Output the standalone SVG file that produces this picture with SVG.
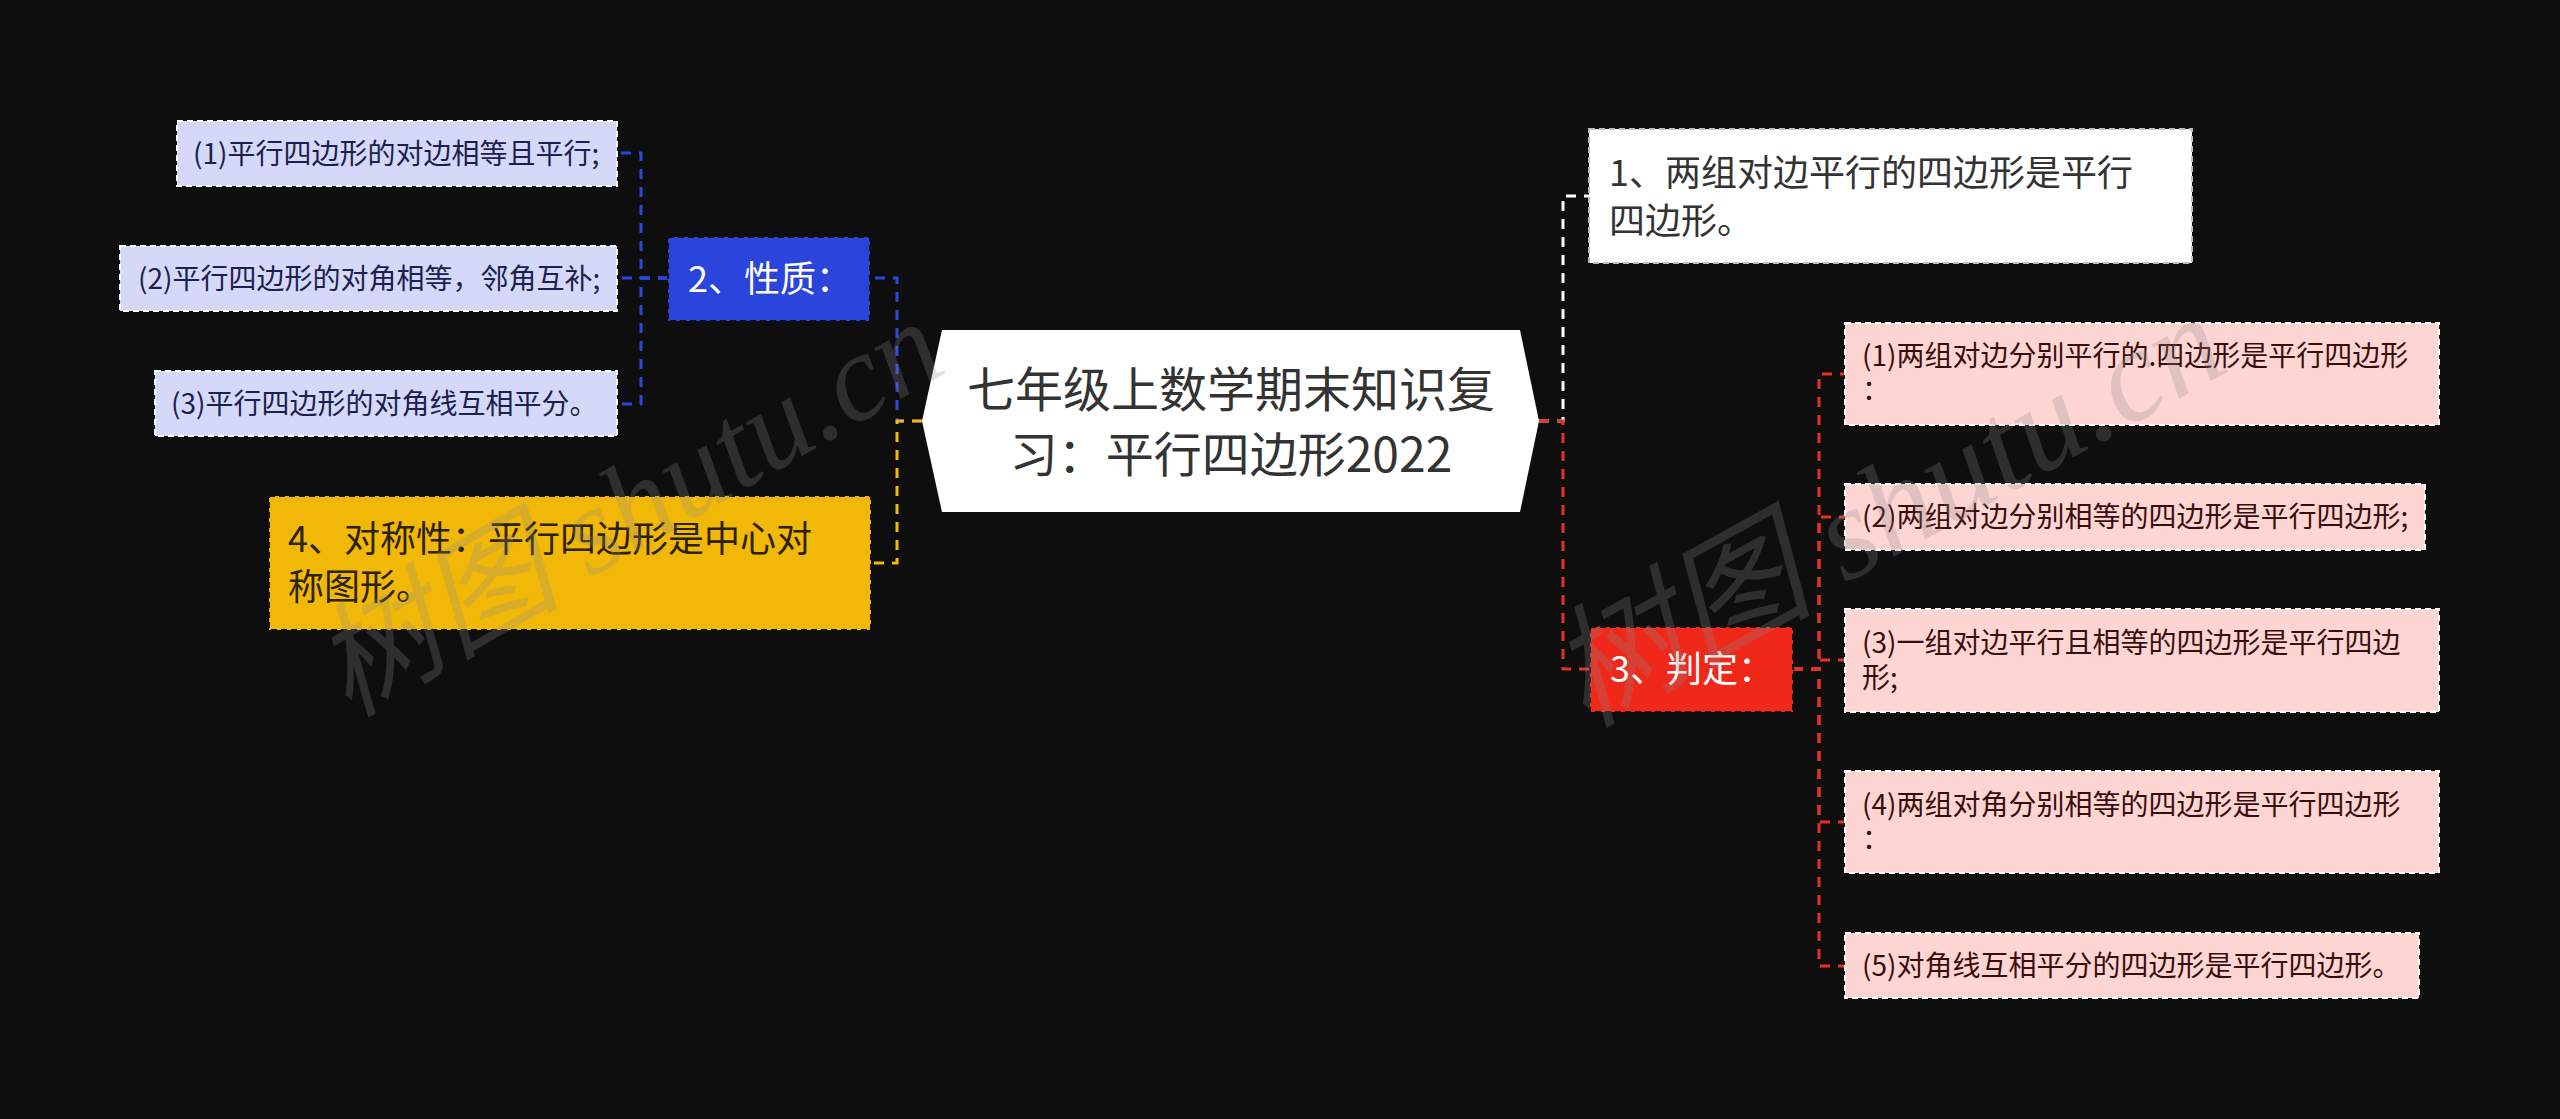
<svg xmlns="http://www.w3.org/2000/svg" width="2560" height="1119" viewBox="0 0 2560 1119">
<style>
text{font-family:"Noto Sans CJK SC","Noto Sans",sans-serif}
.c{fill:none;stroke-width:3;stroke-dasharray:10 8}
.bl{stroke:#2b48de}.ye{stroke:#f0b90b}.wh{stroke:#ffffff}.rd{stroke:#e5321f}
.lav{fill:#d5d9f7;stroke:#ffffff;stroke-width:2;stroke-dasharray:6 4}
.pk{fill:#fdd6d3;stroke:#ffffff;stroke-width:2;stroke-dasharray:6 4}
.s{font-size:28px}
.b{font-size:36px}
.tl{fill:#1b2050}.tp{fill:#3a0c0c}
.wm{font-family:"Liberation Serif","Noto Sans CJK SC",serif;fill:#8a8a8a;fill-opacity:.26;font-style:italic}
</style>
<rect width="2560" height="1119" fill="#0e0e0e"/>
<g id="connectors">
<path class="c bl" d="M922,421H897V278H870"/>
<path class="c bl" d="M668,278H641V153H617"/>
<path class="c bl" d="M668,278H641V278H617"/>
<path class="c bl" d="M668,278H641V404H617"/>
<path class="c ye" d="M922,421H897V563H871"/>
<path class="c wh" d="M1539,421H1563V196H1589"/>
<path class="c rd" d="M1539,421H1563V669H1590"/>
<path class="c rd" d="M1793,669H1819V374H1845"/>
<path class="c rd" d="M1793,669H1819V517H1845"/>
<path class="c rd" d="M1793,669H1819V660H1845"/>
<path class="c rd" d="M1793,669H1819V822H1845"/>
<path class="c rd" d="M1793,669H1819V966H1845"/>
</g>
<g id="center">
<polygon points="942,330 1520,330 1539,421 1520,512 942,512 922,421" fill="#ffffff"/>
<text x="1231" y="407" font-size="48" fill="#333" text-anchor="middle">七年级上数学期末知识复</text>
<text x="1231" y="472" font-size="48" fill="#333" text-anchor="middle">习：平行四边形2022</text>
</g>
<g id="n2">
<rect x="668" y="237" width="202" height="84" fill="#2a44dc" stroke="#111" stroke-width="2" stroke-dasharray="6 4"/>
<text class="b" x="688" y="292" fill="#fff">2、性质：</text>
</g>
<g id="n2-1">
<rect class="lav" x="177" y="121" width="440" height="65"/>
<text class="s tl" x="193" y="164">(1)平行四边形的对边相等且平行;</text>
</g>
<g id="n2-2">
<rect class="lav" x="120" y="246" width="497" height="65"/>
<text class="s tl" x="138" y="289">(2)平行四边形的对角相等，邻角互补;</text>
</g>
<g id="n2-3">
<rect class="lav" x="155" y="371" width="462" height="65"/>
<text class="s tl" x="171" y="414">(3)平行四边形的对角线互相平分。</text>
</g>
<g id="n4">
<rect x="269" y="496" width="602" height="134" fill="#f2b807" stroke="#111" stroke-width="2" stroke-dasharray="6 4"/>
<text class="b" x="288" y="552" fill="#2a2200">4、对称性：平行四边形是中心对</text>
<text class="b" x="288" y="600" fill="#2a2200">称图形。</text>
</g>
<g id="n1">
<rect x="1589" y="129" width="603" height="134" fill="#ffffff" stroke="#bbb" stroke-width="2" stroke-dasharray="6 4"/>
<text class="b" x="1609" y="186" fill="#333">1、两组对边平行的四边形是平行</text>
<text class="b" x="1609" y="234" fill="#333">四边形。</text>
</g>
<g id="n3">
<rect x="1590" y="627" width="203" height="85" fill="#f0281a" stroke="#111" stroke-width="2" stroke-dasharray="6 4"/>
<text class="b" x="1610" y="682" fill="#fff">3、判定：</text>
</g>
<g id="n3-1">
<rect class="pk" x="1845" y="323" width="594" height="102"/>
<text class="s tp" x="1862" y="366">(1)两组对边分别平行的.四边形是平行四边形</text>
<text class="s tp" x="1862" y="400">：</text>
</g>
<g id="n3-2">
<rect class="pk" x="1845" y="484" width="580" height="66"/>
<text class="s tp" x="1862" y="527">(2)两组对边分别相等的四边形是平行四边形;</text>
</g>
<g id="n3-3">
<rect class="pk" x="1845" y="609" width="594" height="103"/>
<text class="s tp" x="1862" y="653">(3)一组对边平行且相等的四边形是平行四边</text>
<text class="s tp" x="1862" y="688">形;</text>
</g>
<g id="n3-4">
<rect class="pk" x="1845" y="771" width="594" height="102"/>
<text class="s tp" x="1862" y="815">(4)两组对角分别相等的四边形是平行四边形</text>
<text class="s tp" x="1862" y="849">：</text>
</g>
<g id="n3-5">
<rect class="pk" x="1845" y="933" width="574" height="65"/>
<text class="s tp" x="1862" y="976">(5)对角线互相平分的四边形是平行四边形。</text>
</g>
<g id="watermark">
<text class="wm" font-size="124" transform="translate(348,718) rotate(-30)">树图 shutu.cn</text>
<text class="wm" font-size="132" transform="translate(1585,728) rotate(-29)">树图 shutu.cn</text>
</g>
</svg>
